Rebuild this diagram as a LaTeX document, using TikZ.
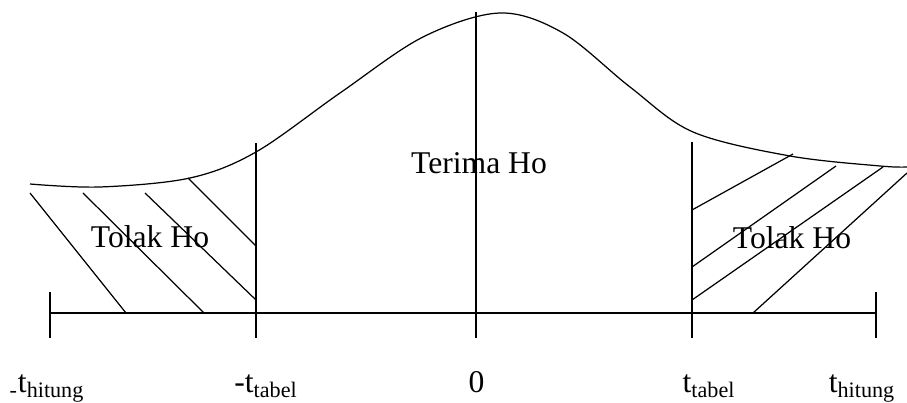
\documentclass[tikz,border=0pt]{standalone}
\usepackage{fontspec}
\setmainfont{Liberation Serif}
\usepackage{tikz}

\begin{document}
\begin{tikzpicture}[line width=0.7pt, lbl/.style={font=\fontsize{18}{21}\selectfont, inner sep=0pt}]
        \useasboundingbox (0,0) rectangle (18.14,8.06);
        % points on the axis
        \coordinate (lhitA) at (1.0,1.8);
        \coordinate (ltabA) at (5.12,1.8);
        \coordinate (zeroA) at (9.52,1.8);
        \coordinate (rtabA) at (13.84,1.8);
        \coordinate (rhitA) at (17.52,1.8);
        % curve
        \draw plot[smooth, tension=0.55] coordinates {(0.6,4.38) (2.0,4.32) (3.8,4.5) (5.12,5.02) (6.8,6.2) (8.46,7.32) (10.0,7.8) (11.26,7.4) (12.6,6.32) (13.86,5.42) (15.8,4.94) (17.6,4.74) (18.14,4.72)};
        % axis and ticks
        \draw (lhitA) -- (rhitA);
        \draw ([yshift=0.42cm]lhitA) -- ([yshift=-0.5cm]lhitA);
        \draw ([yshift=0.42cm]rhitA) -- ([yshift=-0.5cm]rhitA);
        \draw (5.12,5.2) -- ([yshift=-0.5cm]ltabA);
        \draw (9.52,7.82) -- ([yshift=-0.5cm]zeroA);
        \draw (13.84,5.22) -- ([yshift=-0.5cm]rtabA);
        % hatching left
        \draw (0.6,4.2) -- (2.52,1.8);
        \draw (1.66,4.2) -- (4.08,1.8);
        \draw (2.9,4.2) -- (5.12,2.06);
        \draw (3.76,4.5) -- (5.12,3.14);
        % hatching right
        \draw (13.84,3.86) -- (15.86,4.98);
        \draw (13.84,2.72) -- (16.72,4.74);
        \draw (13.84,2.06) -- (17.66,4.72);
        \draw (15.06,1.8) -- (18.14,4.6);
        % regions
        \node[lbl] (tolakL) at (3.0,3.32) {Tolak Ho};
        \node[lbl] (terima) at (9.58,4.8) {Terima Ho};
        \node[lbl] (tolakR) at (15.84,3.3) {Tolak Ho};
        % values
        \node[lbl, anchor=base] (lhit) at (0.94,0.2) {\textsubscript{-}t\textsubscript{hitung}};
        \node[lbl, anchor=base] (ltab) at (5.32,0.2) {-t\textsubscript{tabel}};
        \node[lbl, anchor=base] (zero) at (9.53,0.2) {0};
        \node[lbl, anchor=base] (rtab) at (14.18,0.2) {t\textsubscript{tabel}};
        \node[lbl, anchor=base] (rhit) at (17.24,0.2) {t\textsubscript{hitung}};
\end{tikzpicture}
\end{document}
